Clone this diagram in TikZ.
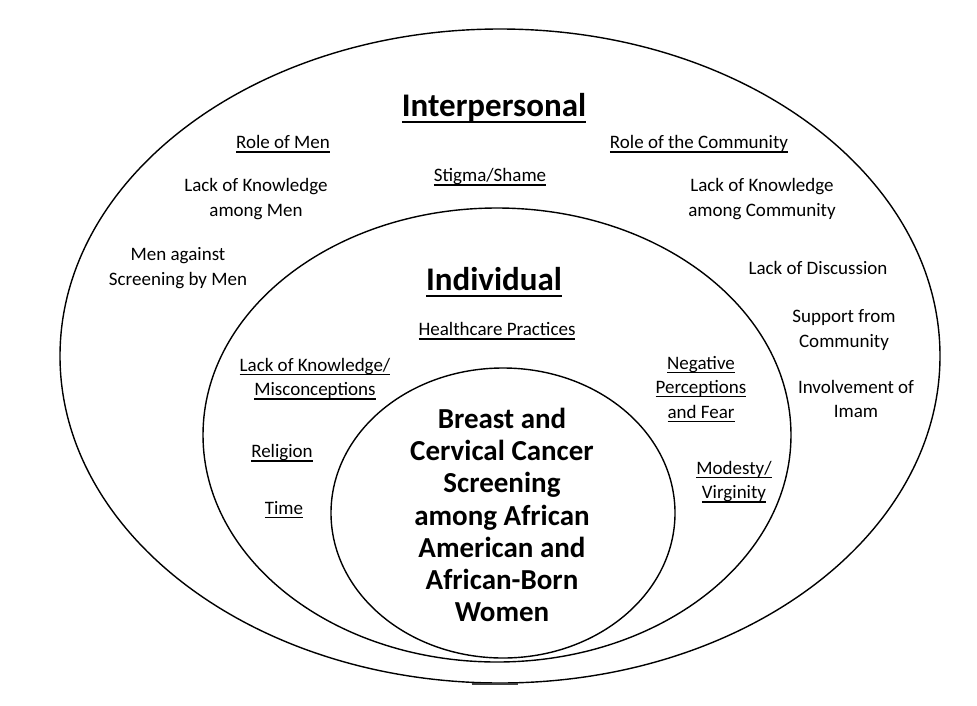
\documentclass[tikz,border=0pt]{standalone}
\usepackage{fontspec}
\setmainfont{Carlito}
\usetikzlibrary{shapes.geometric}

% sottolineatura a profondita fissa
\newcommand{\uln}[2][1.3pt]{\setbox0\hbox{#2}\rlap{#2}\rule[-0.2em]{\wd0}{#1}}

\begin{document}
\begin{tikzpicture}[x=1pt, y=-1pt,
  every node/.style={align=center, inner sep=0pt},
  ring/.style={ellipse, draw, line width=1.4pt},
  factor/.style={font=\fontsize{19}{24.5}\selectfont},
  level/.style={font=\fontsize{33}{40}\selectfont\bfseries}]

\useasboundingbox (0,0) rectangle (977,705);

% Ellissi
\node[ring, minimum width=880, minimum height=654] (inter) at (500,356) {};
\node[ring, minimum width=588, minimum height=454] (indiv) at (497,435) {};
\node[ring, minimum width=344, minimum height=290] (core) at (503,513) {};
\draw[line width=1.8pt, black!75] (472,684) -- (518,684); %pezzetto in basso

% Livelli
\node[level] (interTitle) at (494,108) {\uln[2.2pt]{Interpersonal}};
\node[level] (indivTitle) at (494,282) {\uln[2.2pt]{Individual}};

% Interpersonale
\node[factor] (men) at (283,144) {\uln{Role of Men}};
\node[factor] (comm) at (699,144) {\uln{Role of the Community}};
\node[factor] (stigma) at (490,177) {\uln{Stigma/Shame}};
\node[factor] (knowMen) at (256,199) {Lack of Knowledge\\among Men};
\node[factor] (knowComm) at (762,199) {Lack of Knowledge\\among Community};
\node[factor] (against) at (178,268) {Men against\\Screening by Men};
\node[factor] (discuss) at (818,268) {Lack of Discussion};
\node[factor] (support) at (844,330) {Support from\\Community};
\node[factor] (imam) at (856,399) {Involvement of\\Imam};

% Individuale
\node[factor] (health) at (497,331) {\uln{Healthcare Practices}};
\node[factor] (miscon) at (315,379) {\uln{Lack of Knowledge/}\\\uln{Misconceptions}};
\node[factor] (fear) at (701,389) {\uln{Negative}\\\uln{Perceptions}\\\uln{and Fear}};
\node[factor] (religion) at (282,453) {\uln{Religion}};
\node[factor] (time) at (284,510) {\uln{Time}};
\node[factor] (modesty) at (734,482) {\uln{Modesty/}\\\uln{Virginity}};

% Centro
\node[font=\fontsize{29}{32.2}\selectfont\bfseries] (screening) at (502,515)
  {Breast and\\Cervical Cancer\\Screening\\among African\\American and\\African-Born\\Women};

\end{tikzpicture}
\end{document}
